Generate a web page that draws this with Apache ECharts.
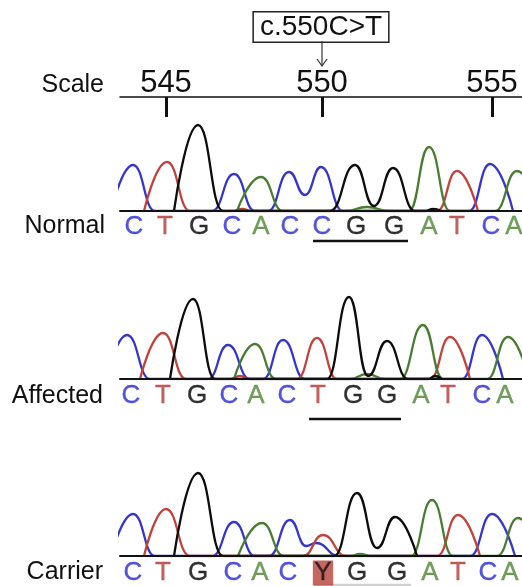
<!DOCTYPE html>
<html>
<head>
<meta charset="utf-8">
<script src="https://cdn.jsdelivr.net/npm/echarts@6/dist/echarts.min.js"></script>
<style>
html,body{margin:0;padding:0;background:#fff;}
#chart{width:522px;height:586px;}
</style>
</head>
<body>
<div id="chart"></div>
<script>
// ---------------- DATA ----------------
const panelNames = ['Normal', 'Affected', 'Carrier'];

const scaleTickLabels = [545, 550, 555];
const scaleTickPos = [166, 322, 492];          // scan position of each numbered base

const mutationLabel = 'c.550C>T';

// base calls (letters) and their scan positions
const normalBases   = ['C','T','G','C','A','C','C','G','G','A','T','C','A'];
const normalBasePos = [134,165,199,232,261,290,322,356,394,429,457,491,514];
const affectedBases   = ['C','T','G','C','A','C','T','G','G','A','T','C','A'];
const affectedBasePos = [131,163,197,229,256,287,318,353,387,421,448,482,505];
const carrierBases   = ['C','T','G','C','A','C','Y','G','G','A','T','C','A'];
const carrierBasePos = [133,163,198,233,260,288,323,357,397,430,458,488,510];

// chromatogram traces: [scan position, signal]
const normalA = [[237,0],[261,34],[283,0],[345,0],[367,4],[390,0],[409,0],[429,64],[450,0],[495,0],[517,40],[539,0]];
const normalC = [[111,0],[133,46],[155,0],[212,0],[234,37],[255,0],[268,0],[289,39],[305,16],[321,44],[343,0],[469,0],[490,47],[513,0]];
const normalG = [[174,0],[198,86],[223,0],[330,0],[355,46],[374,5],[393,43],[415,0],[425,0],[433,2],[441,0]];
const normalT = [[144,0],[167,49],[190,0],[232,0],[242,2],[252,0],[437,0],[457,40],[478,0]];

const affectedA = [[234,0],[255,35],[276,0],[350,0],[367,5],[385,0],[400,0],[423,54],[443,0],[487,0],[508,42],[529,0]];
const affectedC = [[106,0],[127,44],[150,0],[208,0],[228,34],[250,0],[263,0],[283,39],[305,0],[462,0],[482,44],[503,0]];
const affectedG = [[170,0],[193,80],[215,0],[327,0],[349,82],[368,3],[387,38],[408,0],[428,0],[435,3],[442,0]];
const affectedT = [[140,0],[163,46],[186,0],[230,0],[240,3],[250,0],[297,0],[317,41],[337,0],[430,0],[450,42],[470,0]];

const carrierA = [[238,0],[262,33],[284,0],[350,0],[360,2],[372,0],[411,0],[432,56],[453,0],[497,0],[518,38],[540,0]];
const carrierC = [[111,0],[133,42],[155,0],[212,0],[234,34],[255,0],[269,0],[290,36],[306,10],[316,13],[339,0],[470,0],[492,42],[515,0]];
const carrierG = [[174,0],[198,83],[223,0],[334,0],[357,63],[377,8],[395,39],[417,0]];
const carrierT = [[144,0],[166,47],[190,0],[303,0],[323,21],[346,0],[437,0],[458,41],[480,0]];

// codon that is underlined (index of first base, number of bases)
const codonStart = 6;
const codonLength = 3;

// ---------------- STYLE / LAYOUT ----------------
const FONT = '"Liberation Sans", Arial, Helvetica, sans-serif';
const traceColors  = { A: '#4a7c33', C: '#3636cc', G: '#0d0d0d', T: '#c0443c' };
const letterColors = { A: '#4d8633', C: '#2828d8', G: '#000000', T: '#b33a34', Y: '#111111' };

const panels = [
  { bases: normalBases,   pos: normalBasePos,   traces: { A: normalA,   C: normalC,   G: normalG,   T: normalT },
    top: 111, letterY: -15.5, underlineY: -30, underlineColor: '#111', labelY: 226 },
  { bases: affectedBases, pos: affectedBasePos, traces: { A: affectedA, C: affectedC, G: affectedG, T: affectedT },
    top: 279, letterY: -17, underlineY: -40, underlineColor: '#111', labelY: 396 },
  { bases: carrierBases,  pos: carrierBasePos,  traces: { A: carrierA,  C: carrierC,  G: carrierG,  T: carrierT },
    top: 456, letterY: -17, underlineY: -29, underlineColor: '#d0d0d0', labelY: 572 }
];

const X_MIN = 120, X_MAX = 522;

const grid = [{ left: 120, right: 0, top: 97, height: 10 }];
const xAxis = [{
  gridIndex: 0, type: 'value', min: X_MIN, max: X_MAX, position: 'top',
  axisLine: { show: true, onZero: false, lineStyle: { color: '#111', width: 1.5 } },
  axisTick: { show: true, inside: true, length: 20, customValues: scaleTickPos, lineStyle: { color: '#111', width: 3 } },
  axisLabel: { show: true, customValues: scaleTickPos, margin: -2, fontSize: 31, color: '#111', fontFamily: FONT,
    formatter: v => String(scaleTickLabels[scaleTickPos.indexOf(v)]) },
  splitLine: { show: false }
}];
const yAxis = [{ gridIndex: 0, type: 'value', min: 0, max: 1, show: false }];
const series = [];

panels.forEach((p, i) => {
  const gi = i + 1;
  grid.push({ left: 120, right: 0, top: p.top, height: 100 });
  xAxis.push({
    gridIndex: gi, type: 'value', min: X_MIN, max: X_MAX, position: 'bottom', z: 5,
    axisLine: { show: true, onZero: false, lineStyle: { color: '#111', width: 2 } },
    axisTick: { show: false }, axisLabel: { show: false }, splitLine: { show: false }
  });
  yAxis.push({ gridIndex: gi, type: 'value', min: 0, max: 100, show: false });

  ['C', 'T', 'A', 'G'].forEach(ch => {
    series.push({
      type: 'line', xAxisIndex: gi, yAxisIndex: gi, data: p.traces[ch],
      smooth: 0.5, smoothMonotone: 'x', showSymbol: false, symbol: 'none', silent: true,
      lineStyle: { color: traceColors[ch], width: 2.3 }, clip: true, z: 2
    });
  });

  series.push({
    type: 'scatter', xAxisIndex: gi, yAxisIndex: gi, clip: false, silent: true, z: 3,
    symbol: 'rect', symbolSize: 1, itemStyle: { color: 'rgba(0,0,0,0)' },
    data: p.bases.map((b, k) => {
      const item = {
        name: b, value: [p.pos[k], p.letterY],
        label: { color: letterColors[b], textBorderColor: letterColors[b], textBorderWidth: 0.35 }
      };
      if (b === 'Y') {
        item.label = { color: '#111', textBorderColor: '#111', textBorderWidth: 0.3,
          backgroundColor: '#b8403a', padding: [0, 1.5, 5, 1.5], lineHeight: 20 };
      }
      return item;
    }),
    label: { show: true, position: 'inside', formatter: '{b}', fontSize: 26, fontFamily: FONT }
  });

  const s = p.pos[codonStart], e = p.pos[codonStart + codonLength - 1];
  series.push({
    type: 'line', xAxisIndex: gi, yAxisIndex: gi, clip: false, silent: true, showSymbol: false, symbol: 'none',
    data: [[s - 9, p.underlineY], [e + 14, p.underlineY]],
    lineStyle: { color: p.underlineColor, width: 2.5 }, z: 3
  });
});

const graphic = [
  { type: 'text', style: { text: 'Scale', x: 104, y: 85, align: 'right', verticalAlign: 'middle', font: '25px ' + FONT, fill: '#111' } },
  ...panelNames.map((n, i) => ({
    type: 'text', style: { text: n, x: i === 0 ? 105 : 103, y: panels[i].labelY, align: 'right', verticalAlign: 'middle', font: '25px ' + FONT, fill: '#111' }
  })),
  { type: 'text', style: { text: mutationLabel, x: 321, y: 27, align: 'center', verticalAlign: 'middle', font: '28px ' + FONT, fill: '#111',
      backgroundColor: '#fff', borderColor: '#222', borderWidth: 1.5, padding: [1, 6, 0, 6], lineHeight: 28 } },
  { type: 'line', shape: { x1: 322, y1: 41, x2: 322, y2: 66 }, style: { stroke: '#333', lineWidth: 1.2 } },
  { type: 'polyline', shape: { points: [[317, 59], [322, 66], [327, 59]] }, style: { stroke: '#333', lineWidth: 1.2, fill: null } }
];

const chart = echarts.init(document.getElementById('chart'), null, { renderer: 'canvas' });
chart.setOption({
  animation: false,
  backgroundColor: '#fff',
  grid, xAxis, yAxis, series, graphic
});
</script>
</body>
</html>
